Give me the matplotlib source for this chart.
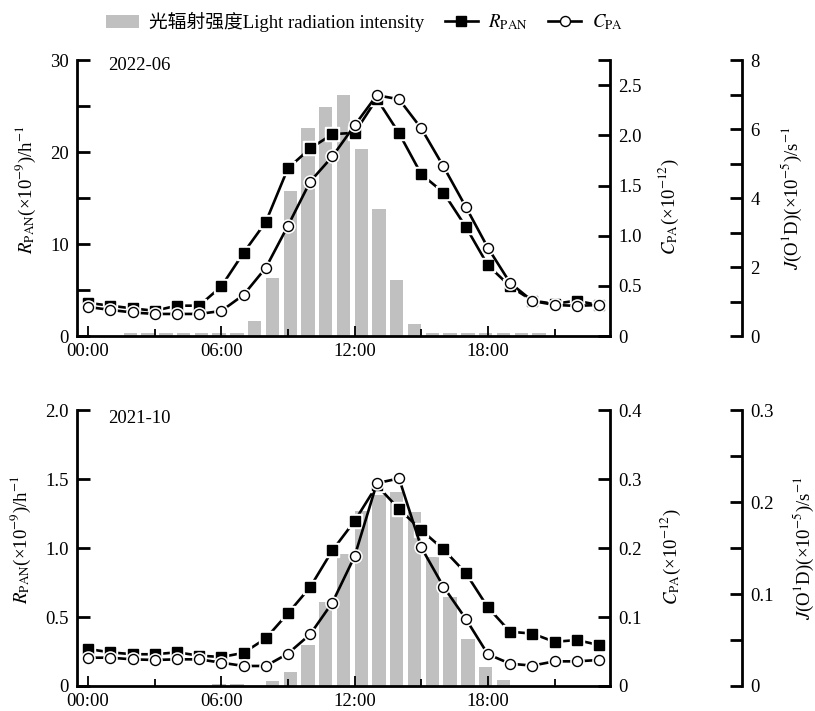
import matplotlib
matplotlib.use('Agg')
import matplotlib.pyplot as plt
from matplotlib.lines import Line2D
from matplotlib.patches import Patch

plt.rcParams['font.family'] = ['Liberation Serif', 'Noto Sans CJK SC']
plt.rcParams['mathtext.fontset'] = 'stix'
plt.rcParams['font.size'] = 13.5

hours = list(range(24))
x_ticks = [0, 6, 12, 18]
x_labels = ['00:00', '06:00', '12:00', '18:00']

# 2022-06
rpan_jun = [3.6, 3.3, 3.0, 2.75, 3.3, 3.3, 5.4, 9.05, 12.4, 18.25, 20.4, 21.95,
            22.1, 25.8, 22.05, 17.6, 15.6, 11.9, 7.7, 5.4, 3.85, 3.5, 3.85, 3.35]
cpa_jun = [0.29, 0.26, 0.235, 0.22, 0.22, 0.22, 0.25, 0.41, 0.68, 1.10, 1.54, 1.79,
           2.10, 2.40, 2.36, 2.07, 1.69, 1.29, 0.88, 0.53, 0.35, 0.31, 0.30, 0.31]
jrad_jun = [0.08, 0.08, 0.08, 0.08, 0.08, 0.08, 0.08, 0.44, 1.67, 4.2, 6.04, 6.64,
            7.0, 5.41, 3.69, 1.62, 0.36, 0.08, 0.08, 0.08, 0.08, 0.08, 0.08, 0.08]

# 2021-10
rpan_oct = [0.268, 0.244, 0.23, 0.23, 0.244, 0.22, 0.21, 0.24, 0.345, 0.527, 0.717, 0.983,
            1.196, 1.454, 1.283, 1.13, 0.99, 0.82, 0.57, 0.393, 0.38, 0.32, 0.333, 0.297]
cpa_oct = [0.041, 0.041, 0.0386, 0.0377, 0.0386, 0.0386, 0.0338, 0.029, 0.029, 0.047, 0.075, 0.121,
           0.188, 0.294, 0.301, 0.201, 0.144, 0.0976, 0.046, 0.0323, 0.0295, 0.0357, 0.0357, 0.0377]
jrad_oct = [0, 0, 0, 0, 0, 0.002, 0.002, 0, 0.005, 0.0156, 0.0446, 0.091,
            0.1435, 0.19, 0.208, 0.211, 0.189, 0.1405, 0.097, 0.051, 0.021, 0.0063, 0, 0]

r_ticks_jun = [0, 10, 20, 30]
r_labels_jun = ['0', '10', '20', '30']
c_ticks_jun = [0, 0.5, 1.0, 1.5, 2.0, 2.5]
c_labels_jun = ['0', '0.5', '1.0', '1.5', '2.0', '2.5']
j_ticks_jun = [0, 2, 4, 6, 8]
j_labels_jun = ['0', '2', '4', '6', '8']

r_ticks_oct = [0, 0.5, 1.0, 1.5, 2.0]
r_labels_oct = ['0', '0.5', '1.0', '1.5', '2.0']
c_ticks_oct = [0, 0.1, 0.2, 0.3, 0.4]
c_labels_oct = ['0', '0.1', '0.2', '0.3', '0.4']
j_ticks_oct = [0, 0.1, 0.2, 0.3]
j_labels_oct = ['0', '0.1', '0.2', '0.3']

BAR_GRAY = '#c0c0c0'
LW = 1.9
SP = 2.0


def plot_series(ax, y, marker, face):
    ax.plot(hours, y, color='black', lw=LW, zorder=2)
    # white halo leaves a small gap between the line and each symbol
    ax.plot(hours, y, ls='none', marker=marker, ms=9.5, mfc='white', mec='white', zorder=3)
    ax.plot(hours, y, ls='none', marker=marker, ms=7.2, mfc=face, mec='black', mew=1.0, zorder=4)


def draw_panel(fig, rect, rpan, cpa, jrad, r_lim, r_ticks, r_minor, r_labels,
               c_lim, c_ticks, c_minor, c_labels, j_lim, j_ticks, j_minor, j_labels,
               tag, tag_y, lab_x):
    # bars sit on their own axes so they can use their own horizontal scale
    axj = fig.add_axes(rect, label=tag + 'j')
    axj.bar(hours, jrad, width=0.75, color=BAR_GRAY, zorder=1)
    axj.set_xlim(-3, 27)
    axj.set_ylim(*j_lim)
    axj.set_xticks([])
    for s in ['top', 'left', 'bottom']:
        axj.spines[s].set_visible(False)
    axj.spines['right'].set_position(('axes', 1.2477))
    axj.spines['right'].set_linewidth(SP)
    axj.yaxis.tick_right()
    axj.set_yticks(j_ticks)
    axj.set_yticklabels(j_labels)
    axj.set_yticks(j_minor, minor=True)
    axj.tick_params(axis='y', which='both', direction='in', length=9, width=SP, pad=6)
    axj.set_ylabel(r'$J$(O$^1$D)(×10$^{-5}$)/s$^{-1}$')
    axj.yaxis.set_label_position('right')
    axj.yaxis.set_label_coords(lab_x[2], 0.5)

    ax = fig.add_axes(rect, label=tag)
    ax.patch.set_visible(False)
    plot_series(ax, rpan, 's', 'black')
    ax.set_xlim(-0.5, 23.5)
    ax.set_ylim(*r_lim)
    ax.spines['top'].set_visible(False)
    ax.spines['right'].set_visible(False)
    ax.spines['left'].set_linewidth(SP)
    ax.spines['bottom'].set_linewidth(SP)
    ax.set_xticks(x_ticks)
    ax.set_xticklabels(x_labels)
    ax.set_xticks([3, 9, 15, 21], minor=True)
    ax.tick_params(axis='x', which='major', direction='in', length=7, width=1.3, pad=5)
    ax.tick_params(axis='x', which='minor', direction='in', length=5, width=1.3)
    ax.set_yticks(r_ticks)
    ax.set_yticklabels(r_labels)
    ax.set_yticks(r_minor, minor=True)
    ax.tick_params(axis='y', which='both', direction='in', length=9, width=SP, pad=6)
    ax.set_ylabel(r'$R_{\rm PAN}$(×10$^{-9}$)/h$^{-1}$')
    ax.yaxis.set_label_coords(lab_x[0], 0.53)
    ax.text(0.058, tag_y, tag, transform=ax.transAxes, va='baseline', ha='left')

    axc = ax.twinx()
    plot_series(axc, cpa, 'o', 'white')
    axc.set_ylim(*c_lim)
    for s in ['top', 'left', 'bottom']:
        axc.spines[s].set_visible(False)
    axc.spines['right'].set_linewidth(SP)
    axc.set_yticks(c_ticks)
    axc.set_yticklabels(c_labels)
    axc.set_yticks(c_minor, minor=True)
    axc.tick_params(axis='y', which='both', direction='in', length=9, width=SP, pad=6)
    axc.set_ylabel(r'$C_{\rm PA}$(×10$^{-12}$)', rotation=90)
    axc.yaxis.set_label_coords(lab_x[1], 0.47)
    return ax


fig = plt.figure(figsize=(8.15, 7.11), dpi=100)

draw_panel(fig, [0.0945, 0.5274, 0.654, 0.388], rpan_jun, cpa_jun, jrad_jun,
           (0, 30), r_ticks_jun, [5, 15, 25], r_labels_jun,
           (0, 2.75), c_ticks_jun, [2.75], c_labels_jun,
           (0, 8), j_ticks_jun, [1, 3, 5, 7], j_labels_jun,
           '2022-06', 0.965, (-0.073, 1.088, 1.319))

draw_panel(fig, [0.0945, 0.0352, 0.654, 0.388], rpan_oct, cpa_oct, jrad_oct,
           (0, 2.0), r_ticks_oct, [], r_labels_oct,
           (0, 0.4), c_ticks_oct, [], c_labels_oct,
           (0, 0.3), j_ticks_oct, [0.05, 0.15, 0.25], j_labels_oct,
           '2021-10', 0.953, (-0.083, 1.092, 1.341))

handles = [
    Patch(facecolor=BAR_GRAY, edgecolor='none'),
    Line2D([], [], color='black', lw=LW, marker='s', ms=7.2, mfc='black', mec='black'),
    Line2D([], [], color='black', lw=LW, marker='o', ms=7.2, mfc='white', mec='black'),
]
labels = ['光辐射强度Light radiation intensity', r'$R_{\rm PAN}$', r'$C_{\rm PA}$']
fig.legend(handles, labels, loc='center', bbox_to_anchor=(0.447, 0.969), ncol=3,
           frameon=False, handlelength=1.75, handletextpad=0.55, columnspacing=1.1,
           fontsize=13.5)

fig.savefig('out.png', dpi=100)
